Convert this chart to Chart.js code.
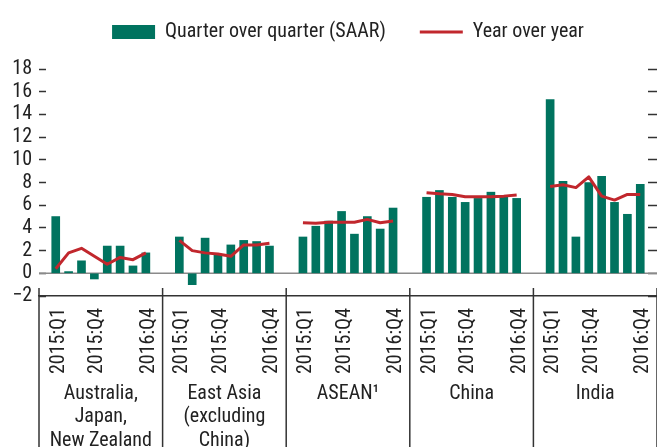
<!DOCTYPE html>
<html>
<head>
<meta charset="utf-8">
<script src="https://cdn.jsdelivr.net/npm/chart.js@4/dist/chart.umd.min.js"></script>
<style>
html,body{margin:0;padding:0;background:#fff;}
canvas{display:block;}
</style>
</head>
<body>
<canvas id="c" width="657" height="447"></canvas>
<script>
// ---- data ----
const groups = [
  ['Australia,', 'Japan,', 'New Zealand'],
  ['East Asia', '(excluding', 'China)'],
  'ASEAN\u00B9',
  'China',
  'India'
];
const quarters = ['2015:Q1','2015:Q2','2015:Q3','2015:Q4','2016:Q1','2016:Q2','2016:Q3','2016:Q4'];
const labelledQuarters = ['2015:Q1','2015:Q4','2016:Q4'];
const yTickValues = [-2, 0, 2, 4, 6, 8, 10, 12, 14, 16, 18];

const qoqAustraliaJapanNZ = [5.0, 0.15, 1.1, -0.5, 2.4, 2.4, 0.65, 1.8];
const yoyAustraliaJapanNZ = [0.4, 1.8, 2.2, 1.5, 0.8, 1.4, 1.2, 1.8];
const qoqEastAsia = [3.2, -1.0, 3.1, 1.6, 2.5, 2.9, 2.8, 2.4];
const yoyEastAsia = [2.9, 2.0, 1.8, 1.7, 1.5, 2.5, 2.5, 2.65];
const qoqASEAN = [3.2, 4.15, 4.6, 5.45, 3.45, 5.0, 3.9, 5.75];
const yoyASEAN = [4.45, 4.4, 4.5, 4.5, 4.5, 4.75, 4.45, 4.6];
const qoqChina = [6.7, 7.3, 6.7, 6.25, 6.6, 7.15, 6.85, 6.6];
const yoyChina = [7.1, 7.0, 6.95, 6.75, 6.75, 6.75, 6.8, 6.9];
const qoqIndia = [15.3, 8.1, 3.2, 8.0, 8.55, 6.25, 5.2, 7.85];
const yoyIndia = [7.65, 7.8, 7.55, 8.5, 6.8, 6.45, 6.95, 6.95];

const qoqSeries = [qoqAustraliaJapanNZ, qoqEastAsia, qoqASEAN, qoqChina, qoqIndia];
const yoySeries = [yoyAustraliaJapanNZ, yoyEastAsia, yoyASEAN, yoyChina, yoyIndia];

// ---- layout of the index axis (in quarter units) ----
const GROUP_SPAN = 9.6;
const FIRST = 1.3;
const xOf = (g, q) => g * GROUP_SPAN + FIRST + q;

const barPoints = [];
const linePoints = [];
qoqSeries.forEach((s, g) => s.forEach((v, q) => barPoints.push({x: xOf(g, q), y: v})));
yoySeries.forEach((s, g) => {
  s.forEach((v, q) => linePoints.push({x: xOf(g, q), y: v}));
  linePoints.push({x: xOf(g, quarters.length - 1) + 0.5, y: null});
});
const quarterTicks = [];
groups.forEach((_, g) => labelledQuarters.forEach(l => quarterTicks.push({value: xOf(g, quarters.indexOf(l)), label: l})));

const FONT = "'Liberation Sans Narrow', 'Arial Narrow', 'Roboto Condensed', 'Liberation Sans', sans-serif";
Chart.defaults.font.family = FONT;
Chart.defaults.color = '#222';

const GREEN = '#00735f';
const RED = '#c1272d';
const INK = '#333';

const dividers = {
  id: 'dividers',
  beforeDatasetsDraw(chart) {
    const ys = chart.scales.y;
    const ctx = chart.ctx;
    const py = ys.getPixelForValue(0);
    ctx.save();
    ctx.strokeStyle = '#8a8a8a';
    ctx.lineWidth = 1.5;
    ctx.beginPath();
    ctx.moveTo(chart.chartArea.left, py);
    ctx.lineTo(chart.chartArea.right, py);
    ctx.stroke();
    ctx.restore();
  },
  afterDraw(chart) {
    const xs = chart.scales.x;
    const ctx = chart.ctx;
    ctx.save();
    ctx.strokeStyle = INK;
    ctx.lineWidth = 1.5;
    for (let g = 0; g <= groups.length; g++) {
      const px = xs.getPixelForValue(g * GROUP_SPAN);
      ctx.beginPath();
      ctx.moveTo(px, chart.chartArea.bottom - 8);
      ctx.lineTo(px, chart.height);
      ctx.stroke();
    }
    ctx.restore();
  }
};

const noSidePadding = s => { s.paddingLeft = 0; s.paddingRight = 0; };

new Chart(document.getElementById('c'), {
  type: 'bar',
  data: {
    datasets: [
      {
        type: 'bar', label: 'Quarter over quarter (SAAR)', data: barPoints,
        backgroundColor: GREEN, borderWidth: 0, barThickness: 8,
        xAxisID: 'x', yAxisID: 'y', order: 1
      },
      {
        type: 'line', label: 'Year over year', data: linePoints,
        borderColor: RED, backgroundColor: RED, borderWidth: 3, pointRadius: 0,
        tension: 0, spanGaps: false, borderJoinStyle: 'round',
        xAxisID: 'x', yAxisID: 'y', order: 0
      }
    ]
  },
  options: {
    responsive: false,
    animation: false,
    events: [],
    devicePixelRatio: 1,
    layout: {padding: {top: -12, right: -2, left: 0, bottom: 0}},
    plugins: {
      tooltip: {enabled: false},
      legend: {
        position: 'top', fullSize: false, align: 'center',
        labels: {
          usePointStyle: true, pointStyleWidth: 43, boxHeight: 14, padding: 34,
          color: '#222', font: {size: 20},
          generateLabels: chart => chart.data.datasets.map((d, i) => ({
            text: d.label,
            fillStyle: d.type === 'bar' ? d.backgroundColor : 'rgba(0,0,0,0)',
            strokeStyle: d.type === 'line' ? d.borderColor : 'rgba(0,0,0,0)',
            lineWidth: d.type === 'line' ? 3 : 0,
            pointStyle: d.type === 'bar' ? 'rect' : 'line',
            fontColor: '#222',
            hidden: false,
            datasetIndex: i
          }))
        }
      }
    },
    scales: {
      x: {
        type: 'linear', position: 'bottom', weight: 0,
        min: 0, max: GROUP_SPAN * groups.length, offset: false,
        afterBuildTicks: s => { s.ticks = quarterTicks.map(t => ({value: t.value})); },
        afterFit: s => { s.height = 80; noSidePadding(s); },
        ticks: {
          autoSkip: false, minRotation: 90, maxRotation: 90, padding: 12, labelOffset: 3,
          color: '#222', font: {size: 20},
          callback: (v, i) => quarterTicks[i] ? quarterTicks[i].label : ''
        },
        grid: {display: false, drawTicks: false, offset: false},
        border: {display: true, color: INK, width: 1.5}
      },
      xg: {
        type: 'category', labels: groups, position: 'bottom', weight: 1, offset: true,
        afterFit: s => { s.height = 71; noSidePadding(s); },
        ticks: {autoSkip: false, minRotation: 0, maxRotation: 0, padding: 6, color: '#222', font: {size: 20, lineHeight: 1.18}},
        grid: {display: false, drawTicks: false},
        border: {display: false}
      },
      y: {
        type: 'linear', position: 'left', min: -2, max: 19.5,
        afterBuildTicks: s => { s.ticks = yTickValues.map(v => ({value: v})); },
        afterFit: s => { s.width = 39; },
        ticks: {
          autoSkip: false, padding: 14, color: '#222', font: {size: 20},
          callback: v => v < 0 ? '\u2212' + Math.abs(v) : String(v)
        },
        grid: {
          drawOnChartArea: false, drawTicks: true, tickLength: -7,
          tickColor: INK, tickWidth: 1.5
        },
        border: {display: false}
      },
      y2: {
        type: 'linear', position: 'right', min: -2, max: 19.5,
        afterBuildTicks: s => { s.ticks = yTickValues.map(v => ({value: v})); },
        afterFit: s => { s.width = 0; },
        ticks: {display: false, autoSkip: false},
        grid: {drawOnChartArea: false, drawTicks: true, tickLength: -9, tickColor: INK, tickWidth: 1.5},
        border: {display: false}
      }
    }
  },
  plugins: [dividers]
});
</script>
</body>
</html>
